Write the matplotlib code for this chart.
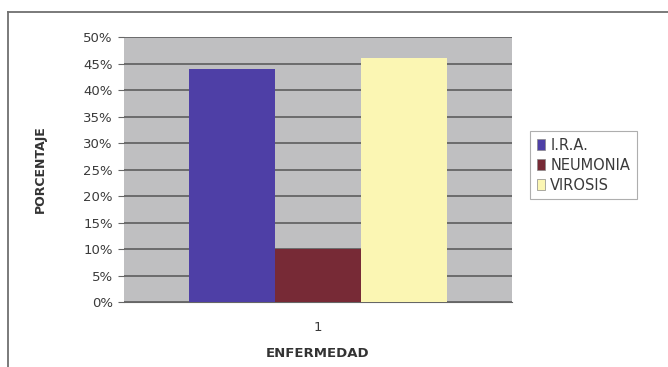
import matplotlib.pyplot as plt
from matplotlib.lines import Line2D
from matplotlib.ticker import PercentFormatter

plt.rcParams['font.family'] = ['DejaVu Sans']

series = ['I.R.A.', 'NEUMONIA', 'VIROSIS']
values = [44, 10, 46]
colors = ['#4e3fa6', '#772a36', '#fbf6b3']
categories = ['1']

fig = plt.figure(figsize=(6.68, 3.67), dpi=100)
fig.patch.set_facecolor('white')
ax = fig.add_axes([0.1856, 0.177, 0.581, 0.722])
ax.set_facecolor('#bfbfc1')

width = 0.222
for i, (name, v, c) in enumerate(zip(series, values, colors)):
    ax.bar(0 + (i - 1) * width, v, width, color=c, label=name, zorder=3)

ax.set_xlim(-0.5, 0.5)
ax.set_ylim(0, 50)
ax.set_yticks(range(0, 51, 5))
ax.yaxis.set_major_formatter(PercentFormatter(decimals=0))
ax.set_xticks([0])
ax.set_xticklabels(categories)
ax.grid(axis='y', color='#555555', linewidth=1.1, zorder=1)
for s in ['top', 'right', 'left']:
    ax.spines[s].set_visible(False)
ax.spines['bottom'].set_color('#666666')
ax.tick_params(axis='y', length=4, color='#666666', labelsize=9.5, labelcolor='#3a3a3a', pad=4)
ax.tick_params(axis='x', length=0, labelsize=9.5, labelcolor='#3a3a3a', pad=14)

ax.set_ylabel('PORCENTAJE', fontsize=9, fontweight='bold', color='#333333', labelpad=26)
ax.set_xlabel('ENFERMEDAD', fontsize=9.5, fontweight='bold', color='#333333', labelpad=9)

leg = ax.legend(loc='upper left', bbox_to_anchor=(1.046, 0.645), fontsize=10.5,
                frameon=True, fancybox=False, handlelength=0.6, handleheight=0.8,
                handletextpad=0.35, borderpad=0.45, labelspacing=0.35, borderaxespad=0,
                labelcolor='#3a3a3a')
leg.get_frame().set_edgecolor('#9a9a9a')
leg.get_frame().set_linewidth(0.8)
for h in leg.legend_handles:
    h.set_edgecolor('#888888')
    h.set_linewidth(0.5)

# outer chart frame
fig.add_artist(Line2D([8 / 668, 8 / 668], [0, 1 - 12 / 367], transform=fig.transFigure,
                      color='#707070', linewidth=1.3))
fig.add_artist(Line2D([8 / 668, 1], [1 - 12 / 367, 1 - 12 / 367], transform=fig.transFigure,
                      color='#707070', linewidth=1.3))

fig.savefig('out.png', dpi=100)
